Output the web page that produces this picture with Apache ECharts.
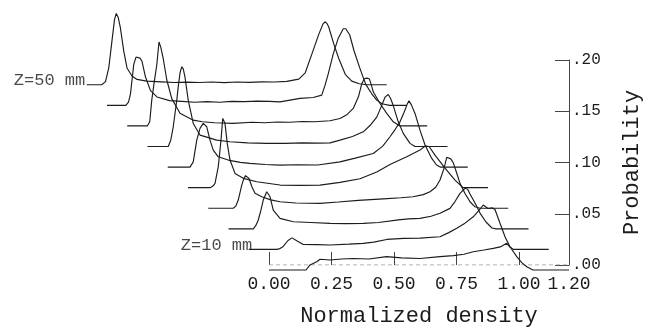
<!DOCTYPE html>
<html>
<head>
<meta charset="utf-8">
<script src="https://cdn.jsdelivr.net/npm/echarts@6/dist/echarts.min.js"></script>
<style>
  html, body { margin: 0; padding: 0; background: #fff; }
  #chart { width: 656px; height: 332px; }
</style>
</head>
<body>
<div id="chart"></div>
<script>
// Axial stations (mm), front trace first
const zStations = [5, 10, 15, 20, 25, 30, 35, 40, 45, 50];

// Probability distributions of normalized density, [density, probability]
const pdfZ5 = [[0,0],[0.148,0],[0.164,0.0048],[0.191,0.0079],[0.204,0.0102],[0.244,0.0095],[0.29,0.0105],[0.337,0.011],[0.4,0.0105],[0.47,0.0127],[0.53,0.0115],[0.604,0.011],[0.684,0.0127],[0.737,0.0137],[0.78,0.015],[0.817,0.0174],[0.86,0.019],[0.897,0.0206],[0.925,0.022],[0.951,0.0254],[0.97,0.02],[0.991,0.0127],[1.011,0.007],[1.031,0.0031],[1.056,0],[1.2,0]];
const pdfZ10 = [[0,0],[0.112,0],[0.125,0.0008],[0.138,0.0028],[0.157,0.0085],[0.173,0.011],[0.192,0.0082],[0.218,0.0047],[0.27,0.0045],[0.325,0.0042],[0.4,0.005],[0.458,0.0058],[0.5,0.007],[0.552,0.0095],[0.62,0.0105],[0.685,0.0108],[0.765,0.0121],[0.8,0.016],[0.832,0.0201],[0.865,0.025],[0.898,0.0311],[0.92,0.037],[0.938,0.0423],[0.957,0.039],[0.975,0.0395],[0.985,0.038],[1.005,0.0249],[1.025,0.0121],[1.045,0.0026],[1.058,0],[1.2,0]];
const pdfZ15 = [[0,0],[0.099,0],[0.109,0.003],[0.119,0.0084],[0.129,0.017],[0.139,0.0274],[0.153,0.0353],[0.166,0.0306],[0.179,0.0179],[0.206,0.01],[0.259,0.0068],[0.33,0.006],[0.406,0.0052],[0.47,0.005],[0.539,0.0052],[0.6,0.006],[0.68,0.0085],[0.72,0.0095],[0.766,0.01],[0.81,0.012],[0.846,0.0148],[0.886,0.0195],[0.906,0.026],[0.926,0.0338],[0.946,0.0386],[0.956,0.038],[0.966,0.0331],[0.986,0.0246],[1.006,0.015],[1.03,0.0065],[1.054,0.0008],[1.07,0],[1.2,0]];
const pdfZ20 = [[0,0],[0.1,0],[0.11,0.002],[0.12,0.0078],[0.134,0.0221],[0.142,0.028],[0.149,0.0311],[0.156,0.031],[0.163,0.0283],[0.175,0.0202],[0.187,0.0142],[0.214,0.011],[0.25,0.008],[0.287,0.0062],[0.35,0.005],[0.447,0.0047],[0.52,0.006],[0.6,0.0075],[0.7,0.009],[0.77,0.01],[0.819,0.011],[0.86,0.013],[0.887,0.0157],[0.91,0.02],[0.927,0.0269],[0.943,0.038],[0.954,0.0485],[0.962,0.049],[0.97,0.047],[0.981,0.0428],[0.994,0.0333],[1.007,0.0237],[1.027,0.0141],[1.047,0.0062],[1.067,0.0014],[1.087,0],[1.2,0]];
const pdfZ25 = [[0,0],[0.088,0],[0.1,0.0015],[0.108,0.0041],[0.121,0.0199],[0.132,0.0453],[0.139,0.066],[0.148,0.0612],[0.157,0.0422],[0.168,0.0263],[0.188,0.0136],[0.221,0.0089],[0.275,0.0056],[0.368,0.0025],[0.45,0.0022],[0.528,0.0025],[0.608,0.005],[0.688,0.0085],[0.755,0.015],[0.808,0.022],[0.875,0.0294],[0.928,0.0358],[0.95,0.04],[0.965,0.039],[0.988,0.031],[1.028,0.0187],[1.068,0.0072],[1.1,0],[1.2,0]];
const pdfZ30 = [[0,0],[0.089,0],[0.102,0.005],[0.116,0.0257],[0.129,0.0369],[0.142,0.0416],[0.156,0.0384],[0.169,0.0257],[0.182,0.0162],[0.202,0.0098],[0.242,0.0067],[0.29,0.0045],[0.329,0.0035],[0.39,0.0025],[0.449,0.0019],[0.52,0.0022],[0.6,0.002],[0.689,0.005],[0.75,0.0085],[0.822,0.013],[0.86,0.02],[0.889,0.0289],[0.91,0.036],[0.929,0.0431],[0.945,0.052],[0.958,0.06],[0.965,0.0631],[0.975,0.059],[0.989,0.0511],[1.009,0.0352],[1.029,0.021],[1.056,0.0083],[1.075,0.002],[1.09,0],[1.2,0]];
const pdfZ35 = [[0,0],[0.083,0],[0.093,0.006],[0.103,0.0188],[0.117,0.044],[0.123,0.057],[0.13,0.07],[0.137,0.076],[0.143,0.074],[0.15,0.066],[0.163,0.044],[0.183,0.022],[0.21,0.0109],[0.277,0.0061],[0.33,0.0045],[0.4,0.0035],[0.477,0.003],[0.55,0.003],[0.62,0.0035],[0.68,0.0033],[0.73,0.0035],[0.77,0.0061],[0.82,0.0095],[0.863,0.014],[0.89,0.02],[0.917,0.028],[0.935,0.038],[0.95,0.047],[0.963,0.0496],[0.972,0.046],[0.983,0.039],[1.003,0.0235],[1.023,0.0125],[1.05,0.003],[1.07,0],[1.2,0]];
const pdfZ40 = [[0,0],[0.08,0],[0.09,0.004],[0.098,0.0246],[0.108,0.042],[0.118,0.058],[0.127,0.08],[0.134,0.075],[0.144,0.064],[0.158,0.044],[0.178,0.026],[0.211,0.012],[0.264,0.0055],[0.3,0.004],[0.35,0.003],[0.423,0.0024],[0.5,0.0035],[0.55,0.003],[0.6,0.0038],[0.65,0.0035],[0.7,0.0042],[0.75,0.004],[0.811,0.0049],[0.851,0.0071],[0.88,0.011],[0.904,0.0167],[0.925,0.028],[0.938,0.04],[0.948,0.045],[0.958,0.0455],[0.968,0.045],[0.975,0.04],[0.984,0.0325],[1.011,0.0214],[1.038,0.0119],[1.064,0.0039],[1.09,0],[1.2,0]];
const pdfZ45 = [[0,0],[0.075,0],[0.086,0.003],[0.094,0.011],[0.107,0.039],[0.116,0.046],[0.124,0.046],[0.132,0.045],[0.14,0.042],[0.154,0.027],[0.174,0.014],[0.2,0.008],[0.25,0.0045],[0.3,0.0038],[0.35,0.003],[0.4,0.0035],[0.45,0.003],[0.5,0.0038],[0.55,0.0035],[0.6,0.004],[0.65,0.0038],[0.692,0.0033],[0.772,0.0066],[0.825,0.0075],[0.859,0.0097],[0.872,0.019],[0.885,0.03],[0.905,0.049],[0.925,0.064],[0.945,0.073],[0.955,0.073],[0.971,0.067],[0.988,0.052],[1.012,0.035],[1.035,0.02],[1.059,0.011],[1.079,0.005],[1.1,0.0015],[1.13,0],[1.2,0]];
const pdfZ50 = [[0,0],[0.06,0],[0.075,0.003],[0.088,0.016],[0.101,0.042],[0.111,0.062],[0.118,0.068],[0.126,0.064],[0.134,0.055],[0.148,0.032],[0.161,0.016],[0.181,0.0083],[0.201,0.0051],[0.24,0.0035],[0.3,0.0028],[0.35,0.0022],[0.4,0.0025],[0.45,0.0022],[0.5,0.0026],[0.55,0.002],[0.6,0.0026],[0.65,0.0023],[0.7,0.0028],[0.75,0.0026],[0.8,0.0032],[0.848,0.0054],[0.874,0.0114],[0.9,0.029],[0.928,0.048],[0.945,0.058],[0.954,0.06],[0.962,0.058],[0.968,0.055],[0.988,0.039],[1.008,0.025],[1.034,0.01],[1.06,0.0035],[1.09,0.001],[1.12,0],[1.2,0]];

const profiles = [pdfZ5, pdfZ10, pdfZ15, pdfZ20, pdfZ25, pdfZ30, pdfZ35, pdfZ40, pdfZ45, pdfZ50];

// Axis ticks
const densityTicks = [0, 0.25, 0.5, 0.75, 1.0];
const densityLabels = [0, 0.25, 0.5, 0.75, 1.0, 1.2];
const probabilityTicks = [0, 0.05, 0.1, 0.15, 0.2];

// Stations whose traces carry a name tag
const taggedStations = [10, 50];

// Each trace further back is shifted left and up by this much (axis units)
const SHIFT_X = -0.081;
const SHIFT_Y = 0.0196;

// Plot scale: both grids share it, so the wide drawing grid lines up with the scale grid
const PX_PER_DENSITY = 250;
const AXIS_LEFT = 269, AXIS_RIGHT = 87, AXIS_TOP = 60, AXIS_BOTTOM = 62;
const DRAW_MIN = -0.75;

const FONT = 'Liberation Mono';
const INK = '#1c1c1c';

const traceSeries = profiles.map((pts, k) => ({
  name: 'Z=' + zStations[k] + ' mm',
  type: 'line',
  xAxisIndex: 1,
  yAxisIndex: 1,
  clip: false,
  showSymbol: false,
  symbol: 'none',
  silent: true,
  z: 10 - k,
  lineStyle: { color: INK, width: 1.15 },
  data: pts.map(([d, p]) => [d + k * SHIFT_X, p + k * SHIFT_Y])
}));

// Station tags sit just left of where each tagged trace begins
const tagSeries = {
  type: 'scatter',
  xAxisIndex: 1,
  yAxisIndex: 1,
  clip: false,
  silent: true,
  symbolSize: 1,
  itemStyle: { color: 'rgba(0,0,0,0)' },
  label: {
    show: true,
    position: 'left',
    distance: 1,
    fontFamily: FONT,
    fontSize: 17,
    color: INK,
    formatter: p => p.data.tag
  },
  data: taggedStations.map(z => {
    const k = zStations.indexOf(z);
    return {
      value: [k * SHIFT_X, k * SHIFT_Y],
      tag: 'Z=' + z + ' mm',
      label: { offset: z === 10 ? [5, -4] : [0, -4] }
    };
  })
};

// Dashed density axis baseline, drawn only over the scale range
const baselineSeries = {
  type: 'line',
  xAxisIndex: 0,
  yAxisIndex: 0,
  silent: true,
  symbol: 'none',
  z: 1,
  lineStyle: { color: '#9a9a9a', width: 1, type: [4, 3] },
  data: [[0, 0], [1.2, 0]]
};

const chart = echarts.init(document.getElementById('chart'), null, { renderer: 'canvas' });
chart.setOption({
  animation: false,
  backgroundColor: '#fff',
  grid: [
    { left: AXIS_LEFT, right: AXIS_RIGHT, top: AXIS_TOP, bottom: AXIS_BOTTOM },
    { left: AXIS_LEFT + DRAW_MIN * PX_PER_DENSITY, right: AXIS_RIGHT, top: AXIS_TOP, bottom: AXIS_BOTTOM }
  ],
  xAxis: [{
    type: 'value',
    gridIndex: 0,
    min: 0,
    max: 1.2,
    name: 'Normalized density',
    nameLocation: 'middle',
    nameGap: 40,
    nameTextStyle: { fontFamily: FONT, fontSize: 22, color: INK },
    axisLine: { show: false },
    axisTick: { show: true, inside: true, length: 13, customValues: densityTicks, lineStyle: { color: '#444', width: 1 } },
    axisLabel: {
      customValues: densityLabels,
      formatter: v => v.toFixed(2),
      fontFamily: FONT, fontSize: 18, color: INK, margin: 10
    },
    splitLine: { show: false }
  }, {
    type: 'value',
    gridIndex: 1,
    min: DRAW_MIN,
    max: 1.2,
    show: false
  }],
  yAxis: [{
    type: 'value',
    gridIndex: 0,
    position: 'right',
    min: 0,
    max: 0.2,
    interval: 0.05,
    name: 'Probability',
    nameLocation: 'middle',
    nameRotate: 90,
    nameGap: 52,
    nameTextStyle: { fontFamily: FONT, fontSize: 22, color: INK },
    axisLine: { show: true, onZero: false, lineStyle: { color: '#444', width: 1 } },
    axisTick: { show: true, inside: true, length: 14, customValues: probabilityTicks, lineStyle: { color: '#444', width: 1 } },
    axisLabel: {
      customValues: probabilityTicks,
      formatter: v => v.toFixed(2).replace(/^0/, ''),
      verticalAlign: 'middle',
      padding: [5, 0, 0, 0],
      fontFamily: FONT, fontSize: 16, color: INK, margin: 3
    },
    splitLine: { show: false }
  }, {
    type: 'value',
    gridIndex: 1,
    min: 0,
    max: 0.2,
    show: false
  }],
  series: [baselineSeries].concat(traceSeries, [tagSeries])
});
</script>
</body>
</html>
